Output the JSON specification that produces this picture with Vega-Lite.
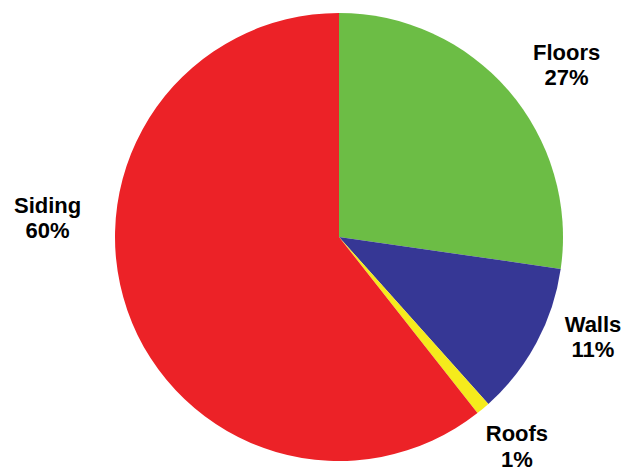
{
  "$schema": "https://vega.github.io/schema/vega-lite/v6.json",
  "autosize": "none",
  "width": 580,
  "height": 468,
  "padding": {"left": 49, "top": 3, "right": 0, "bottom": 0},
  "background": "white",
  "config": {"view": {"stroke": null}},
  "data": {
    "values": [
      {"i": 1, "category": "Floors", "value": 27, "label": "Floors\n27%"},
      {"i": 2, "category": "Walls", "value": 11, "label": "Walls\n11%"},
      {"i": 3, "category": "Roofs", "value": 1, "label": "Roofs\n1%"},
      {"i": 4, "category": "Siding", "value": 60, "label": "Siding\n60%"}
    ]
  },
  "layer": [
    {
      "mark": {"type": "arc", "radius": 224},
      "encoding": {
        "theta": {"field": "value", "type": "quantitative", "stack": true},
        "order": {"field": "i", "type": "quantitative"},
        "color": {
          "field": "category",
          "type": "nominal",
          "scale": {"domain": ["Floors", "Walls", "Roofs", "Siding"], "range": ["#6cbd45", "#363795", "#f5eb1c", "#ec2227"]},
          "legend": null
        }
      }
    },
    {
      "transform": [{"filter": "datum.category === 'Floors'"}],
      "mark": {"type": "text", "theta": 0.925, "radius": 285, "dy": -12.5, "lineBreak": "\n", "font": "Liberation Sans", "fontWeight": "bold", "fontSize": 22, "lineHeight": 25, "align": "center", "baseline": "middle", "color": "black"},
      "encoding": {"text": {"field": "label"}}
    },
    {
      "transform": [{"filter": "datum.category === 'Walls'"}],
      "mark": {"type": "text", "theta": 1.946, "radius": 273, "dy": -12.5, "lineBreak": "\n", "font": "Liberation Sans", "fontWeight": "bold", "fontSize": 22, "lineHeight": 25, "align": "center", "baseline": "middle", "color": "black"},
      "encoding": {"text": {"field": "label"}}
    },
    {
      "transform": [{"filter": "datum.category === 'Roofs'"}],
      "mark": {"type": "text", "theta": 2.438, "radius": 275, "dy": -13, "lineBreak": "\n", "font": "Liberation Sans", "fontWeight": "bold", "fontSize": 22, "lineHeight": 26, "align": "center", "baseline": "middle", "color": "black"},
      "encoding": {"text": {"field": "label"}}
    },
    {
      "transform": [{"filter": "datum.category === 'Siding'"}],
      "mark": {"type": "text", "theta": 4.777, "radius": 292, "dy": -12.5, "lineBreak": "\n", "font": "Liberation Sans", "fontWeight": "bold", "fontSize": 22, "lineHeight": 25, "align": "center", "baseline": "middle", "color": "black"},
      "encoding": {"text": {"field": "label"}}
    }
  ]
}
